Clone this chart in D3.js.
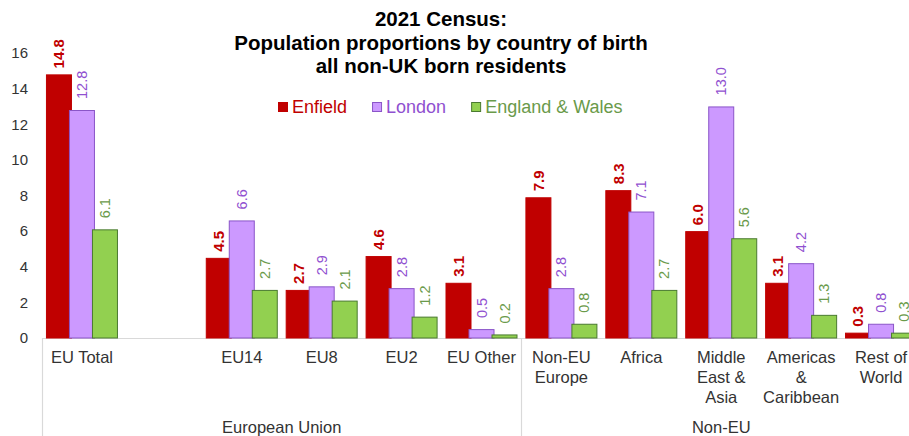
<!DOCTYPE html>
<html>
<head>
<meta charset="utf-8">
<script src="https://cdn.jsdelivr.net/npm/d3@7"></script>
<style>
  html, body { margin: 0; padding: 0; background: #fff; }
  svg { display: block; font-family: Arial, "Liberation Sans", sans-serif; }
</style>
</head>
<body>
<svg id="chart" width="909" height="436"></svg>
<script>
const titleLines = ["2021 Census:", "Population proportions by country of birth", "all non-UK born residents"];
const categories = ["EU Total", "", "EU14", "EU8", "EU2", "EU Other", "Non-EU Europe", "Africa", "Middle East & Asia", "Americas & Caribbean", "Rest of World"];
const categoryLines = [["EU Total"], [], ["EU14"], ["EU8"], ["EU2"], ["EU Other"], ["Non-EU", "Europe"], ["Africa"], ["Middle", "East &", "Asia"], ["Americas", "&", "Caribbean"], ["Rest of", "World"]];
const seriesNames = ["Enfield", "London", "England & Wales"];
const enfield = [14.8, null, 4.5, 2.7, 4.6, 3.1, 7.9, 8.3, 6.0, 3.1, 0.3];
const london = [12.8, null, 6.6, 2.9, 2.8, 0.5, 2.8, 7.1, 13.0, 4.2, 0.8];
const englandWales = [6.1, null, 2.7, 2.1, 1.2, 0.2, 0.8, 2.7, 5.6, 1.3, 0.3];
const groups = [{name: "European Union", from: 0, to: 5}, {name: "Non-EU", from: 6, to: 10}];
const yTicks = [0, 2, 4, 6, 8, 10, 12, 14, 16];

const seriesValues = [enfield, london, englandWales];
const fills = ["#c00000", "#cc99ff", "#92d050"];
const strokes = ["#c00000", "#8a55c8", "#4a7a30"];
const textColors = ["#c00000", "#9050d0", "#6a9a4a"];
const labelWeights = ["bold", "normal", "normal"];

const svg = d3.select("#chart");
const axisColor = "#d9d9d9";
const textColor = "#333";

const x = d3.scaleBand().domain(d3.range(categories.length)).range([42, 921]).paddingInner(0).paddingOuter(0);
const y = d3.scaleLinear().domain([0, 16]).range([338, 53]);

const barW = 26, step = 23;
const groupW = step * 2 + barW;

// Title
svg.append("g").selectAll("text").data(titleLines).join("text")
  .attr("x", 441).attr("y", (d, i) => 26 + i * 23.5)
  .attr("text-anchor", "middle").attr("font-weight", "bold")
  .attr("font-size", "20.5px").attr("fill", "#000").text(d => d);

// Legend
const legend = svg.append("g");
let lx = 278;
seriesNames.forEach((name, i) => {
  legend.append("rect").attr("x", lx + 0.5).attr("y", 102.5).attr("width", 9).attr("height", 9)
    .attr("fill", fills[i]).attr("stroke", strokes[i]).attr("stroke-width", 1);
  const t = legend.append("text").attr("x", lx + 14).attr("y", 113)
    .attr("font-size", "18px").attr("fill", textColors[i]).text(name);
  lx = lx + 14 + t.node().getComputedTextLength() + 25;
});

// Y axis tick labels
svg.append("g").selectAll("text").data(yTicks).join("text")
  .attr("x", 28).attr("y", d => y(d)).attr("dy", "0.35em")
  .attr("text-anchor", "end").attr("font-size", "15px").attr("fill", textColor)
  .text(d => d);

// Axis line
svg.append("line").attr("x1", 42).attr("x2", 921).attr("y1", y(0) + 0.5).attr("y2", y(0) + 0.5)
  .attr("stroke", axisColor).attr("stroke-width", 1.2);

// Group dividers
const dividers = [0, 6, 11].map(i => i < categories.length ? x(i) : x.range()[1]);
svg.append("g").selectAll("line").data(dividers).join("line")
  .attr("x1", d => Math.round(d) + 0.5).attr("x2", d => Math.round(d) + 0.5)
  .attr("y1", y(0)).attr("y2", 436)
  .attr("stroke", axisColor).attr("stroke-width", 1.2);

// Bars
seriesValues.forEach((vals, si) => {
  const g = svg.append("g");
  const data = vals.map((v, i) => ({v, i})).filter(d => d.v !== null);
  g.selectAll("rect").data(data).join("rect")
    .attr("x", d => x(d.i) + x.bandwidth() / 2 - groupW / 2 + si * step + 0.5)
    .attr("width", barW - 1)
    .attr("y", d => y(d.v) + 0.5)
    .attr("height", d => y(0) - y(d.v) - 0.5)
    .attr("fill", fills[si]).attr("stroke", strokes[si]).attr("stroke-width", 1);
});

// Data labels
seriesValues.forEach((vals, si) => {
  const data = vals.map((v, i) => ({v, i})).filter(d => d.v !== null);
  const gap = si === 0 ? 6 : 11;
  svg.append("g").selectAll("text").data(data).join("text")
    .attr("transform", d => `translate(${x(d.i) + x.bandwidth() / 2 - groupW / 2 + si * step + barW / 2},${y(d.v) - gap}) rotate(-90)`)
    .attr("dy", "0.35em").attr("text-anchor", "start")
    .attr("font-size", si === 0 ? "15px" : "14.5px").attr("font-weight", labelWeights[si])
    .attr("fill", textColors[si]).text(d => d.v.toFixed(1));
});

// Category labels
const catG = svg.append("g");
categoryLines.forEach((lines, i) => {
  catG.append("g").selectAll("text").data(lines).join("text")
    .attr("x", x(i) + x.bandwidth() / 2).attr("y", (d, j) => 363 + j * 20)
    .attr("text-anchor", "middle").attr("font-size", "16.5px").attr("fill", textColor)
    .text(d => d);
});

// Group labels
svg.append("g").selectAll("text").data(groups).join("text")
  .attr("x", d => (x(d.from) + x(d.to) + x.bandwidth()) / 2).attr("y", 433)
  .attr("text-anchor", "middle").attr("font-size", "16.5px").attr("fill", textColor)
  .text(d => d.name);
</script>
</body>
</html>
